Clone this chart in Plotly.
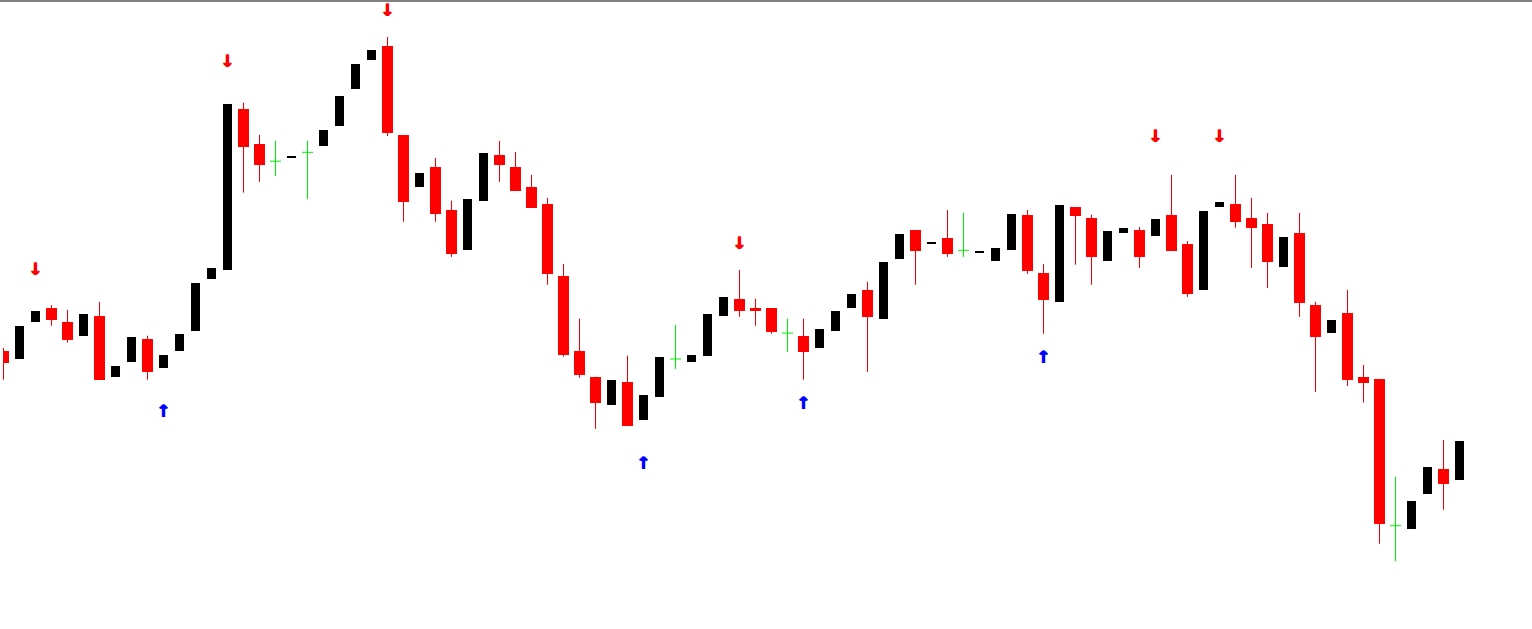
import plotly.graph_objects as go

# ---- data (price levels; no axis shown) ----
bar_index = list(range(92))

opens = [249.2, 241.0, 278.0, 292.0, 278.0, 264.3, 284.3, 223.3, 238.1, 261.4,
         232.2, 249.2, 269.1, 321.3, 330.1, 490.9, 456.2, 438.8, 442.1, 447.7,
         454.0, 473.9, 510.9, 540.1, 554.2, 465.1, 412.9, 433.3, 390.0, 350.1,
         399.3, 445.1, 433.3, 412.9, 395.9, 324.2, 249.2, 223.3, 195.2, 218.1,
         180.4, 203.3, 241.0, 238.1, 244.4, 284.3, 301.3, 292.0, 292.0, 266.9,
         264.3, 252.1, 269.1, 292.0, 310.2, 281.3, 341.2, 370.1, 356.0, 362.3,
         349.7, 347.1, 339.0, 350.1, 385.2, 327.2, 298.3, 393.0, 382.3, 339.0,
         367.1, 370.1, 364.1, 385.2, 356.0, 310.2, 393.0, 395.9, 382.3, 376.0,
         333.1, 367.1, 295.0, 267.3, 287.2, 223.3, 221.1, 74.3, 71.3, 106.1,
         131.2, 120.1]

highs = [252.1, 274.3, 289.1, 295.0, 290.2, 286.1, 298.3, 234.4, 263.2, 264.3,
         245.1, 266.2, 317.2, 332.0, 496.1, 497.2, 465.1, 459.1, 444.4, 459.1,
         470.2, 503.9, 536.0, 550.1, 563.0, 465.1, 427.0, 442.1, 399.3, 401.1,
         447.0, 459.1, 448.1, 425.1, 402.2, 336.0, 281.3, 223.3, 220.3, 244.4,
         205.2, 243.3, 275.0, 245.1, 286.1, 303.1, 330.1, 301.3, 292.0, 281.3,
         281.3, 271.3, 289.1, 306.1, 318.3, 338.3, 366.0, 370.1, 358.2, 390.0,
         387.1, 349.0, 352.3, 386.0, 390.0, 336.0, 395.2, 393.0, 385.2, 369.3,
         372.3, 373.0, 381.1, 425.1, 359.0, 389.3, 398.2, 425.1, 402.2, 387.1,
         363.0, 387.1, 298.3, 280.2, 310.2, 235.1, 221.1, 123.1, 99.4, 133.1,
         160.1, 159.3]

lows = [220.3, 241.0, 278.0, 274.3, 257.3, 264.3, 220.3, 223.3, 238.1, 220.3,
        232.2, 249.2, 269.1, 321.3, 330.1, 407.4, 418.1, 424.0, 442.1, 401.1,
        454.0, 473.9, 510.9, 540.1, 464.0, 378.2, 412.9, 378.2, 343.1, 350.1,
        399.3, 418.1, 409.2, 392.2, 315.3, 243.3, 222.2, 171.2, 195.2, 174.1,
        180.4, 203.3, 231.1, 238.1, 244.4, 284.3, 283.2, 274.3, 266.2, 248.1,
        220.3, 252.1, 269.1, 292.0, 228.1, 281.3, 341.2, 315.3, 356.0, 343.1,
        343.1, 347.1, 339.0, 350.1, 326.1, 266.2, 298.3, 335.3, 315.3, 339.0,
        367.1, 332.0, 364.1, 349.0, 303.1, 310.2, 393.0, 372.3, 332.0, 312.0,
        333.1, 283.2, 208.1, 267.3, 214.0, 197.4, 56.2, 38.8, 71.3, 106.1,
        90.2, 120.1]

closes = [237.3, 274.3, 289.1, 280.2, 260.3, 286.1, 220.3, 234.4, 263.2, 228.1,
          245.1, 266.2, 317.2, 332.0, 496.1, 453.2, 435.1, 438.8, 444.4, 447.7,
          470.2, 503.9, 536.0, 550.1, 466.9, 398.2, 427.0, 386.0, 346.0, 401.1,
          447.0, 435.1, 409.2, 392.2, 326.1, 245.1, 225.1, 197.4, 220.3, 174.1,
          205.2, 243.3, 241.0, 245.1, 286.1, 303.1, 289.1, 289.1, 268.0, 266.9,
          248.1, 271.3, 289.1, 306.1, 283.2, 338.3, 366.0, 349.0, 358.2, 346.0,
          349.7, 349.0, 352.3, 386.0, 329.0, 300.2, 395.2, 384.1, 343.1, 369.3,
          372.3, 343.1, 381.1, 349.0, 306.1, 389.3, 398.2, 378.2, 372.3, 338.3,
          363.0, 297.2, 263.2, 280.2, 220.3, 217.4, 76.2, 74.3, 99.4, 133.1,
          116.5, 159.3]

sell_signal_index = [2, 14, 24, 46, 72, 76]
sell_signal_level = [329.5, 537.0, 588.0, 355.0, 462.0, 462.0]
buy_signal_index = [10, 40, 50, 65]
buy_signal_level = [187.0, 135.3, 195.4, 241.0]

# ---- styles ----
BULL = "#000000"
BEAR = "#FF0000"
DOJI = "#00EE00"
SELL_ARROW = "#FF0000"
BUY_ARROW = "#0000FF"
BEAR_W = 11 / 16
BULL_W = 9 / 16

# split candles by type
up_x, up_base, up_len = [], [], []
dn_x, dn_base, dn_len = [], [], []
dn_wx, dn_wy = [], []
dj_wx, dj_wy, dj_hx, dj_hy = [], [], [], []
for i, o, h, l, c in zip(bar_index, opens, highs, lows, closes):
    if c > o:
        up_x.append(i); up_base.append(o); up_len.append(c - o)
    elif c < o:
        dn_x.append(i); dn_base.append(c); dn_len.append(o - c)
        dn_wx += [i, i, None]; dn_wy += [l, h, None]
    else:
        dj_wx += [i, i, None]; dj_wy += [l, h, None]
        dj_hx += [i - BEAR_W / 2, i + BEAR_W / 2, None]; dj_hy += [o, o, None]

fig = go.Figure()
fig.add_trace(go.Scatter(x=dn_wx, y=dn_wy, mode="lines",
                         line=dict(color=BEAR, width=1), hoverinfo="skip"))
fig.add_trace(go.Scatter(x=dj_wx, y=dj_wy, mode="lines",
                         line=dict(color=DOJI, width=1), hoverinfo="skip"))
fig.add_trace(go.Scatter(x=dj_hx, y=dj_hy, mode="lines",
                         line=dict(color=DOJI, width=1), hoverinfo="skip"))
fig.add_trace(go.Bar(x=dn_x, y=dn_len, base=dn_base, width=BEAR_W,
                     marker=dict(color=BEAR, line=dict(width=0))))
fig.add_trace(go.Bar(x=up_x, y=up_len, base=up_base, width=BULL_W,
                     marker=dict(color=BULL, line=dict(width=0))))
fig.add_trace(go.Scatter(x=sell_signal_index, y=sell_signal_level, mode="text",
                         text=["↓"] * len(sell_signal_index),
                         textfont=dict(family="DejaVu Sans", size=17,
                                       color=SELL_ARROW, weight="bold",
                                       shadow="0.6px 0 0 #FF0000, -0.6px 0 0 #FF0000"),
                         textposition="middle center"))
fig.add_trace(go.Scatter(x=buy_signal_index, y=buy_signal_level, mode="text",
                         text=["↑"] * len(buy_signal_index),
                         textfont=dict(family="DejaVu Sans", size=17,
                                       color=BUY_ARROW, weight="bold",
                                       shadow="0.6px 0 0 #0000FF, -0.6px 0 0 #0000FF"),
                         textposition="middle center"))

fig.update_layout(
    width=1532, height=629,
    margin=dict(l=3, r=0, t=2, b=0),
    paper_bgcolor="white", plot_bgcolor="white",
    showlegend=False, barmode="overlay", bargap=0,
    xaxis=dict(visible=False, range=[-0.03125, 95.53125], fixedrange=True),
    yaxis=dict(visible=False, range=[-29, 598], fixedrange=True),
    shapes=[dict(type="line", xref="paper", yref="paper",
                 x0=-0.01, x1=1.01, y0=1 + 1 / 627, y1=1 + 1 / 627,
                 line=dict(color="#808080", width=2))],
)

fig.write_html("out.html", config={"displayModeBar": False},
               post_script="document.body.style.margin='0';document.body.style.overflow='hidden';")
